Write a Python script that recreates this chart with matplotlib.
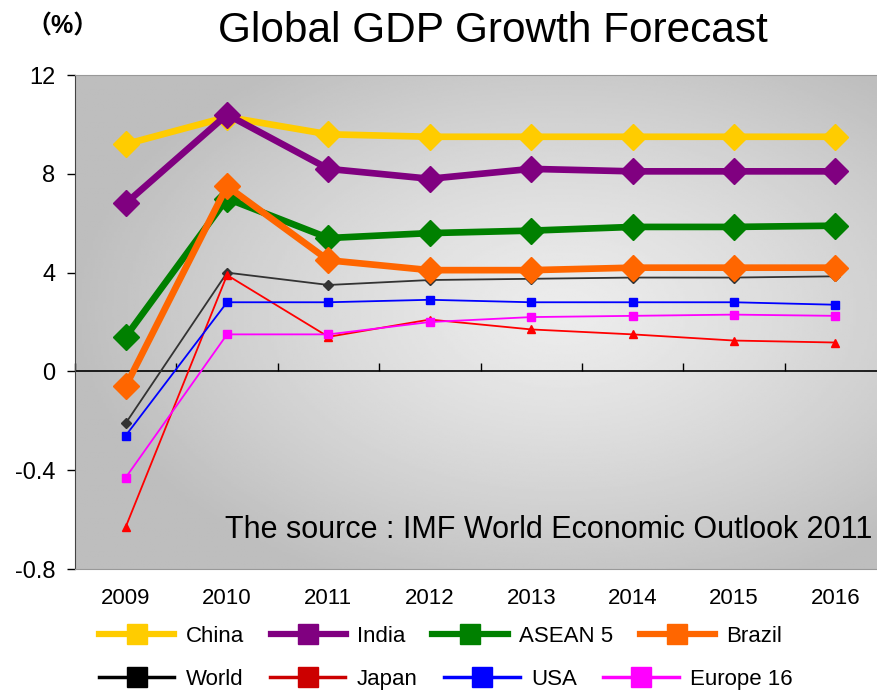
import numpy as np
import matplotlib
matplotlib.use("Agg")
import matplotlib.pyplot as plt
from matplotlib.lines import Line2D

plt.rcParams['font.family'] = ['Liberation Sans', 'Noto Sans CJK SC', 'DejaVu Sans']

# data (plot units; negative part of the axis is labelled /10 as in the original)
years = ['2009', '2010', '2011', '2012', '2013', '2014', '2015', '2016']
china = [9.2, 10.3, 9.6, 9.5, 9.5, 9.5, 9.5, 9.5]
india = [6.8, 10.4, 8.2, 7.8, 8.2, 8.1, 8.1, 8.1]
asean5 = [1.4, 7.0, 5.4, 5.6, 5.7, 5.85, 5.85, 5.9]
brazil = [-0.6, 7.5, 4.5, 4.1, 4.1, 4.2, 4.2, 4.2]
world = [-2.1, 4.0, 3.5, 3.7, 3.75, 3.8, 3.8, 3.85]
japan = [-6.3, 3.9, 1.4, 2.1, 1.7, 1.5, 1.25, 1.17]
usa = [-2.6, 2.8, 2.8, 2.9, 2.8, 2.8, 2.8, 2.7]
europe16 = [-4.3, 1.5, 1.5, 2.0, 2.2, 2.25, 2.3, 2.25]

ytick_vals = [12, 8, 4, 0, -4, -8]
ytick_labels = ['12', '8', '4', '0', '-0.4', '-0.8']

fig = plt.figure(figsize=(8.77, 6.92), dpi=100)
ax = fig.add_axes([0.0855, 0.1777, 0.9248, 0.7139])

# radial grey background
gx, gy = np.meshgrid(np.linspace(0, 1, 300), np.linspace(0, 1, 300))
r = np.sqrt(((gx - 0.6) / 0.6) ** 2 + ((gy - 0.52) / 0.6) ** 2)
grad = 0.925 - 0.18 * np.clip(r, 0, 1) ** 1.3
ax.imshow(grad, extent=[0, 1, 0, 1], transform=ax.transAxes, origin='lower',
          aspect='auto', cmap='gray', vmin=0, vmax=1, zorder=0)

x = np.arange(len(years))

thin = [
    (world, '#333333', 'D', 5, 'World'),
    (japan, '#ff0000', '^', 6, 'Japan'),
    (usa, '#0000ff', 's', 6, 'USA'),
    (europe16, '#ff00ff', 's', 6, 'Europe 16'),
]
thick = [
    (china, '#ffcc00', 'China'),
    (india, '#800080', 'India'),
    (asean5, '#008000', 'ASEAN 5'),
    (brazil, '#ff6600', 'Brazil'),
]
for vals, c, m, ms, name in thin:
    ax.plot(x, vals, color=c, lw=1.3, marker=m, ms=ms, zorder=3)
for vals, c, name in thick:
    ax.plot(x, vals, color=c, lw=4.8, marker='D', ms=13.5, zorder=4)

ax.set_xlim(-0.5, len(years) - 0.5)
ax.set_ylim(-8, 12)

# zero line with category separators
ax.axhline(0, color='black', lw=1.2, zorder=2)
sec = ax.secondary_xaxis(0.4)
sec.set_xticks(np.arange(-0.5, len(years), 1.0))
sec.tick_params(axis='x', direction='in', length=6, width=1, labelbottom=False, labeltop=False,
                color='black')
sec.spines['bottom'].set_visible(False)
sec.spines['top'].set_visible(False)

ax.set_xticks(x)
ax.set_xticklabels(years, fontsize=16)
ax.tick_params(axis='x', length=0, pad=14)
ax.set_yticks(ytick_vals)
ax.set_yticklabels(ytick_labels, fontsize=17)
ax.tick_params(axis='y', direction='out', length=6, width=1, pad=8)

for s in ['top', 'bottom']:
    ax.spines[s].set_color('#999999')
ax.spines['left'].set_color('#444444')
ax.spines['right'].set_visible(False)

ax.text(0.983, 0.08, 'The source : IMF World Economic Outlook 2011', transform=ax.transAxes,
        ha='right', va='center', fontsize=22, zorder=5)

fig.text(0.562, 0.955, 'Global GDP Growth Forecast', ha='center', va='center', fontsize=30.5)
fig.text(0.03, 0.962, '（%）', ha='left', va='center', fontsize=18, fontweight='bold')

row1 = [Line2D([], [], color=c, lw=4.5, marker='s', ms=14) for _, c, _ in thick]
legend_cols = {'World': '#000000', 'Japan': '#cc0000'}
row2 = [Line2D([], [], color=legend_cols.get(n, c), lw=2.5, marker='s', ms=14)
        for _, c, _, _, n in thin]
fig.legend(row1, [n for _, _, n in thick], ncol=4, loc='center left',
           bbox_to_anchor=(0.09, 0.08), frameon=False, fontsize=16,
           handlelength=3.4, handletextpad=0.5, columnspacing=1.2)
fig.legend(row2, [t[4] for t in thin], ncol=4, loc='center left',
           bbox_to_anchor=(0.09, 0.018), frameon=False, fontsize=16,
           handlelength=3.4, handletextpad=0.5, columnspacing=1.2)

fig.savefig('out.png', dpi=100)
